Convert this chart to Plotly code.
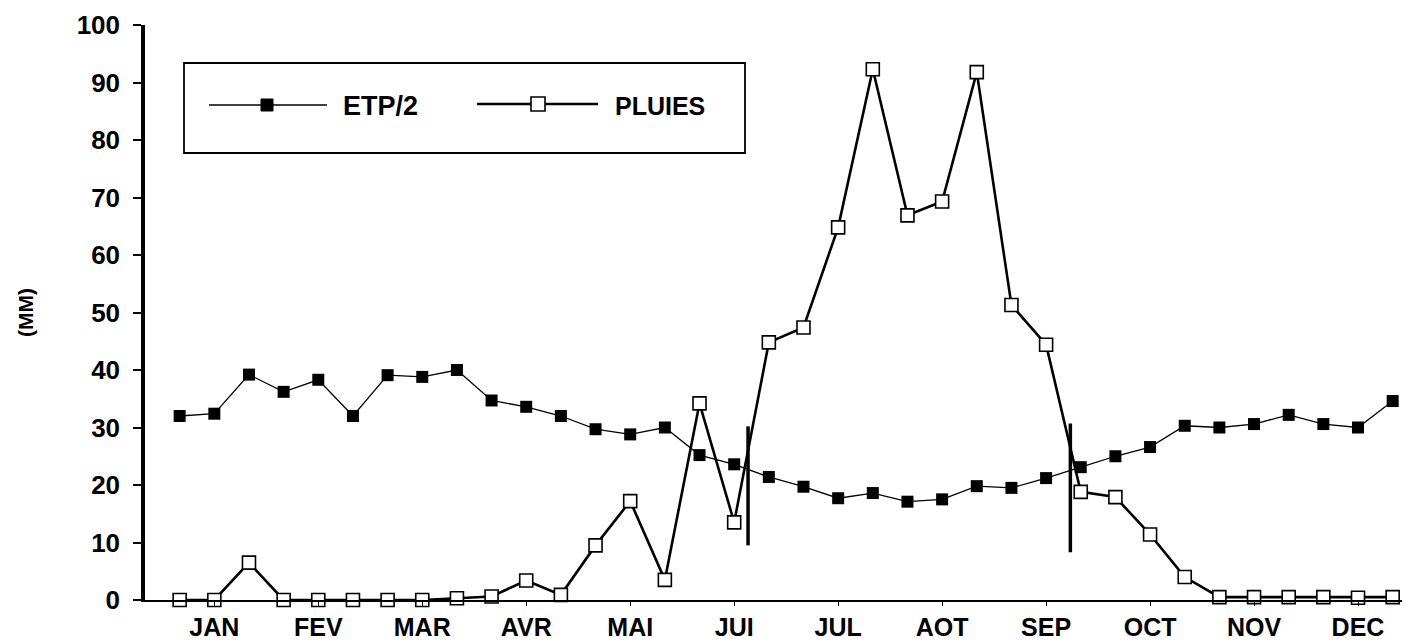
import plotly.graph_objects as go

# ---------------- data ----------------
dekads = list(range(1, 37))
month_labels = ["JAN", "FEV", "MAR", "AVR", "MAI", "JUI",
                "JUL", "AOT", "SEP", "OCT", "NOV", "DEC"]
month_tick_pos = [2, 5, 8, 11, 14, 17, 20, 23, 26, 29, 32, 35]

etp_half = [32.0, 32.4, 39.2, 36.2, 38.3, 32.0, 39.1, 38.8, 40.0,
            34.7, 33.6, 32.0, 29.7, 28.8, 30.0, 25.2, 23.6, 21.4,
            19.7, 17.7, 18.6, 17.1, 17.5, 19.8, 19.5, 21.2, 23.1,
            25.0, 26.6, 30.3, 30.0, 30.6, 32.2, 30.6, 30.0, 34.6]

pluies = [0.0, 0.0, 6.5, 0.0, 0.0, 0.0, 0.0, 0.0, 0.3,
          0.6, 3.4, 0.9, 9.5, 17.2, 3.5, 34.2, 13.5, 44.8,
          47.4, 64.8, 92.3, 66.9, 69.3, 91.8, 51.3, 44.4, 18.8,
          17.9, 11.4, 4.0, 0.5, 0.5, 0.5, 0.5, 0.4, 0.5]

# season limit bars (start / end of the rainy season)
season_x = [17.4, 26.7]
season_low = [9.5, 8.3]
season_high = [30.2, 30.7]

y_ticks = [0, 10, 20, 30, 40, 50, 60, 70, 80, 90, 100]

# ---------------- layout geometry ----------------
OFF = 8                      # default page-body margin of the html page
W, H = 1410 - OFF, 644 - OFF
ML, MR, MT, MB = 145 - OFF, 0, 25 - OFF, 44
PW, PH = W - ML - MR, H - MT - MB
FONT = "Liberation Sans, Arial, sans-serif"


def px(x):
    """screen pixel x -> paper fraction"""
    return (x - OFF - ML) / PW


def py(y):
    """screen pixel y -> paper fraction"""
    return (H - MB - (y - OFF)) / PH


fig = go.Figure()

fig.add_trace(go.Scatter(
    x=dekads, y=etp_half, name="ETP/2", mode="lines+markers",
    line=dict(color="black", width=1.3),
    marker=dict(symbol="square", size=12, color="black"),
    cliponaxis=False, showlegend=False,
))

fig.add_trace(go.Scatter(
    x=dekads, y=pluies, name="PLUIES", mode="lines+markers",
    line=dict(color="black", width=2.6),
    marker=dict(symbol="square", size=13, color="white",
                line=dict(color="black", width=1.6)),
    cliponaxis=False, showlegend=False,
))

sx, sy = [], []
for xv, lo, hi in zip(season_x, season_low, season_high):
    sx += [xv, xv, None]
    sy += [lo, hi, None]
fig.add_trace(go.Scatter(
    x=sx, y=sy, mode="lines", line=dict(color="black", width=3.5),
    hoverinfo="skip", showlegend=False, cliponaxis=False,
))

# ---------------- custom legend (box, samples, labels) ----------------
shapes = [
    dict(type="rect", xref="paper", yref="paper",
         x0=px(184), x1=px(745), y0=py(153), y1=py(63),
         line=dict(color="black", width=1.8), fillcolor="rgba(0,0,0,0)"),
    dict(type="line", xref="paper", yref="paper",
         x0=px(209), x1=px(327), y0=py(105), y1=py(105),
         line=dict(color="black", width=1.3)),
    dict(type="rect", xref="paper", yref="paper",
         x0=px(261), x1=px(273), y0=py(111), y1=py(99),
         line=dict(color="black", width=1), fillcolor="black"),
    dict(type="line", xref="paper", yref="paper",
         x0=px(477), x1=px(598), y0=py(104), y1=py(104),
         line=dict(color="black", width=2.6)),
    dict(type="rect", xref="paper", yref="paper",
         x0=px(531), x1=px(545), y0=py(111), y1=py(97),
         line=dict(color="black", width=1.6), fillcolor="white"),
]

annotations = [
    dict(text="ETP/2", xref="paper", yref="paper", x=px(341), y=py(106),
         xanchor="left", yanchor="middle", showarrow=False,
         font=dict(family=FONT, size=27, color="black", weight="bold")),
    dict(text="PLUIES", xref="paper", yref="paper", x=px(613), y=py(106),
         xanchor="left", yanchor="middle", showarrow=False,
         font=dict(family=FONT, size=25, color="black", weight="bold")),
]

fig.update_layout(
    width=W, height=H,
    margin=dict(l=ML, r=MR, t=MT, b=MB, autoexpand=False),
    paper_bgcolor="white", plot_bgcolor="white",
    font=dict(family=FONT, color="black"),
    shapes=shapes, annotations=annotations,
    showlegend=False,
)

fig.update_xaxes(
    range=[0, 36.5],
    tickmode="array", tickvals=month_tick_pos, ticktext=month_labels,
    ticks="outside", ticklen=4, tickwidth=1, tickcolor="black",
    showline=True, linecolor="black", linewidth=2,
    showgrid=False, zeroline=False,
    tickfont=dict(family=FONT, size=25, color="black", weight="bold"),
    ticklabelstandoff=0, ticklabeloverflow="allow",
)

fig.update_yaxes(
    range=[0, 100],
    tickmode="array", tickvals=y_ticks,
    ticks="outside", ticklen=8, tickwidth=2, tickcolor="black",
    showline=True, linecolor="black", linewidth=3.5,
    showgrid=False, zeroline=False,
    tickfont=dict(family=FONT, size=26, color="black", weight="bold"),
    ticklabelstandoff=8, ticklabeloverflow="allow",
    title=dict(text="(MM)", standoff=38,
               font=dict(family=FONT, size=21, color="black", weight="bold")),
)

fig.write_html("out.html")
